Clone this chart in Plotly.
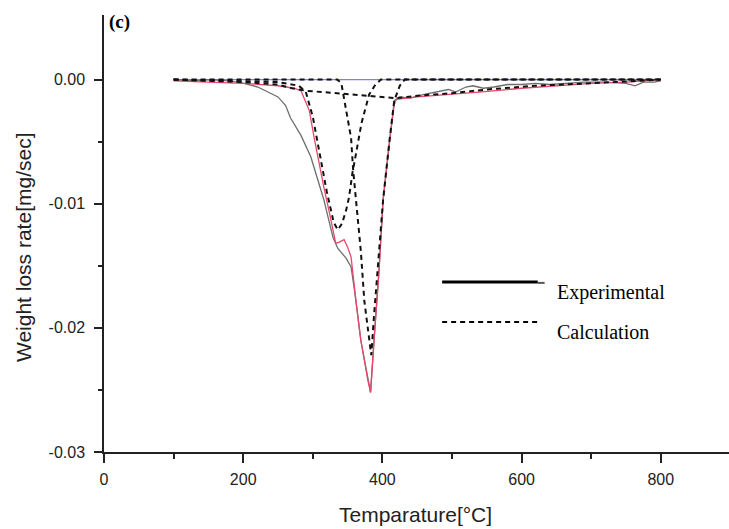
import plotly.graph_objects as go

# Experimental (gray)
exp_T = [100, 130, 150, 180, 201, 221, 250, 261, 268, 283, 297, 307, 316, 322, 329, 336, 348, 355, 360,
         369, 379, 383, 388, 395, 401, 410, 417, 425, 440, 460, 480, 495, 505, 520, 530, 545, 560, 580,
         600, 620, 640, 662, 690, 720, 750, 763, 775, 790, 800]
exp_v = [0.0, -0.0001, 0.0, -0.0001, -0.0003, -0.0006, -0.0014, -0.0021, -0.0031, -0.0045, -0.0062,
         -0.0081, -0.0097, -0.0111, -0.0127, -0.0136, -0.0144, -0.0151, -0.0170, -0.0210, -0.0242,
         -0.0252, -0.0210, -0.0155, -0.0097, -0.0050, -0.0017, -0.0014, -0.0015, -0.0012, -0.0010,
         -0.0008, -0.0010, -0.0006, -0.0005, -0.0007, -0.0006, -0.0004, -0.0004, -0.0003, -0.0004,
         -0.0003, -0.0002, -0.0002, -0.0003, -0.0005, -0.0002, -0.0002, -0.0001]

# Calculated total (red)
calc_T = [100, 150, 200, 250, 273, 283, 287, 295, 302, 309, 316, 323, 330, 333, 338, 345, 350, 355, 362,
          369, 379, 383, 388, 395, 401, 410, 417, 420, 450, 500, 543, 600, 650, 700, 750, 800]
calc_v = [-0.0001, -0.0002, -0.0003, -0.0005, -0.0007, -0.0009, -0.0014, -0.0025, -0.0047, -0.0068,
          -0.0087, -0.0105, -0.0124, -0.0132, -0.0131, -0.0129, -0.0135, -0.0143, -0.0178, -0.0210,
          -0.0242, -0.0252, -0.0210, -0.0155, -0.0097, -0.0050, -0.0020, -0.0016, -0.0014, -0.0012,
          -0.0010, -0.0007, -0.0005, -0.0003, -0.0002, 0.0]

# Component 1 (dashed, peak ~335)
c1_T = [100, 250, 280, 290, 300, 310, 320, 330, 336, 342, 348, 352, 357, 362, 370, 381, 390, 398, 800]
c1_v = [0.0, -0.0002, -0.0005, -0.0010, -0.0030, -0.0060, -0.0090, -0.0115, -0.0121, -0.0116, -0.0105,
        -0.0095, -0.0075, -0.0060, -0.0035, -0.0012, -0.0004, 0.0, 0.0]

# Component 2 (dashed, peak ~383)
c2_T = [100, 335, 341, 348, 355, 358, 362, 369, 374, 381, 384, 388, 395, 401, 410, 417, 425, 432, 800]
c2_v = [0.0, 0.0, -0.0003, -0.0025, -0.0047, -0.0073, -0.0097, -0.0138, -0.0178, -0.0210, -0.0222,
        -0.0190, -0.0140, -0.0097, -0.0050, -0.0017, -0.0005, 0.0, 0.0]

# Component 3 (dashed, broad)
c3_T = [100, 200, 250, 270, 290, 330, 380, 420, 450, 500, 550, 620, 700, 800]
c3_v = [0.0, -0.0002, -0.0004, -0.0007, -0.0009, -0.0011, -0.0013, -0.0015, -0.0013, -0.0011,
        -0.0008, -0.0005, -0.0003, 0.0]

base_T = [100, 800]
base_v = [0.0, 0.0]

x_ticks = [0, 200, 400, 600, 800]
x_minor = [100, 300, 500, 700]
y_ticks = [-0.03, -0.02, -0.01, 0.0]
y_ticktext = ["-0.03", "-0.02", "-0.01", "0.00"]
y_minor = [-0.025, -0.015, -0.005]

fig = go.Figure()
fig.add_trace(go.Scatter(x=base_T, y=base_v, mode="lines", line=dict(color="#7f7fe8", width=1.2)))
fig.add_trace(go.Scatter(x=exp_T, y=exp_v, mode="lines", line=dict(color="#6e6e6e", width=1.3)))
fig.add_trace(go.Scatter(x=calc_T, y=calc_v, mode="lines", line=dict(color="#e8466a", width=1.3)))
for T, v in [(c1_T, c1_v), (c2_T, c2_v), (c3_T, c3_v)]:
    fig.add_trace(go.Scatter(x=T, y=v, mode="lines",
                             line=dict(color="#111111", width=2, dash="5px,4px")))

serif = "Liberation Serif, Times New Roman, serif"
sans = "Liberation Sans, Arial, sans-serif"

# Legend drawn as shapes + text
fig.add_shape(type="line", xref="paper", yref="paper", x0=0.541, x1=0.694, y0=0.389, y1=0.389,
              line=dict(color="black", width=3))
fig.add_shape(type="line", xref="paper", yref="paper", x0=0.694, x1=0.705, y0=0.387, y1=0.387,
              line=dict(color="#555555", width=2))
fig.add_shape(type="line", xref="paper", yref="paper", x0=0.541, x1=0.698, y0=0.2975, y1=0.2975,
              line=dict(color="black", width=2, dash="5px,4px"))
fig.add_annotation(xref="paper", yref="paper", x=0.7216, y=0.366, text="Experimental", showarrow=False,
                   xanchor="left", yanchor="middle", font=dict(family=serif, size=20, color="black"))
fig.add_annotation(xref="paper", yref="paper", x=0.7216, y=0.2746, text="Calculation", showarrow=False,
                   xanchor="left", yanchor="middle", font=dict(family=serif, size=20, color="black"))
fig.add_annotation(xref="paper", yref="paper", x=0.004, y=0.985, text="<b>(c)</b>", showarrow=False,
                   xanchor="left", yanchor="middle", font=dict(family=serif, size=19, color="black"))

# Axis titles as annotations for exact placement
fig.add_annotation(xref="paper", yref="paper", x=-0.1296, y=0.469, text="Weight loss rate[mg/sec]",
                   textangle=-90, showarrow=False, xanchor="center", yanchor="middle",
                   font=dict(family=sans, size=21, color="#222222"))
fig.add_annotation(xref="paper", yref="paper", x=0.4976, y=-0.144, text="Temparature[°C]",
                   showarrow=False, xanchor="center", yanchor="middle",
                   font=dict(family=sans, size=21, color="#222222"))

fig.update_layout(
    width=729, height=529,
    margin=dict(l=104, r=0, t=15, b=77),
    paper_bgcolor="white", plot_bgcolor="white",
    showlegend=False,
    font=dict(family=sans, size=16, color="#222222"),
    xaxis=dict(range=[0, 898], tickvals=x_ticks, ticks="outside", ticklen=9,
               tickwidth=1.5, tickcolor="#222", showline=True, linecolor="#222", linewidth=1.5,
               showgrid=False, zeroline=False, ticklabelstandoff=3,
               minor=dict(tickvals=x_minor, ticks="outside", ticklen=5,
                          tickcolor="#222", tickwidth=1.5)),
    yaxis=dict(range=[-0.03, 0.0052], tickvals=y_ticks, ticktext=y_ticktext,
               ticks="outside", ticklen=8, tickwidth=1.5, tickcolor="#222", showline=True,
               linecolor="#222", linewidth=1.5, showgrid=False, zeroline=False, ticklabelstandoff=6,
               minor=dict(tickvals=y_minor, ticks="outside", ticklen=4,
                          tickcolor="#222", tickwidth=1.5)),
)

fig.write_html("out.html")
